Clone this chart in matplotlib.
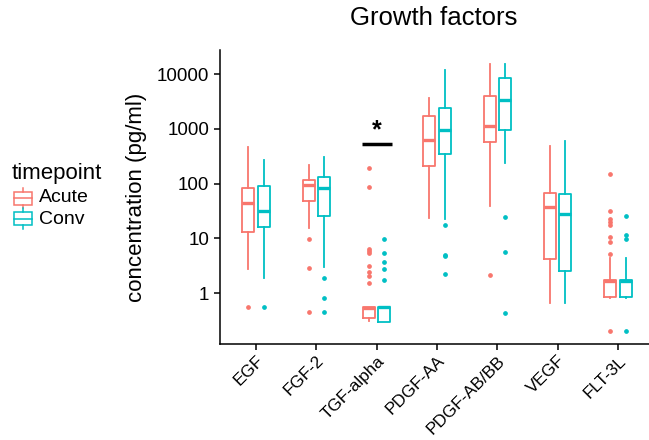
import matplotlib
matplotlib.use('Agg')
import matplotlib.pyplot as plt
from matplotlib.patches import Rectangle
from matplotlib.lines import Line2D

plt.rcParams['font.family'] = ['Liberation Sans', 'DejaVu Sans']

# ===== DATA =====
categories = ['EGF', 'FGF-2', 'TGF-alpha', 'PDGF-AA', 'PDGF-AB/BB', 'VEGF', 'FLT-3L']

acute_whislo = [2.7, 15.2, 0.31, 23.8, 39, 0.65, 0.82]
acute_q1 = [12.9, 48.7, 0.35, 210, 585, 4.2, 0.86]
acute_med = [45, 94, 0.545, 626, 1130, 37, 1.68]
acute_q3 = [82, 116, 0.56, 1740, 4050, 68, 1.73]
acute_whishi = [470, 219, 0.56, 3630, 15400, 490, 4.3]
acute_fliers = [
    [0.55],
    [9.6, 2.83, 0.45],
    [190, 87, 6.4, 5.9, 5.5, 3.16, 2.39, 2.07, 1.5],
    [],
    [2.13],
    [],
    [152, 31.6, 22.8, 20, 17.3, 10.4, 8.4, 5.1, 0.2],
]

conv_whislo = [1.86, 2.95, 0.295, 22.5, 235, 0.65, 0.82]
conv_q1 = [16, 25.6, 0.295, 343, 940, 2.53, 0.86]
conv_med = [32, 82, 0.55, 957, 3380, 27.8, 1.68]
conv_q3 = [91, 132, 0.56, 2390, 8370, 63.9, 1.73]
conv_whishi = [270, 310, 0.56, 12000, 15400, 600, 4.3]
conv_fliers = [
    [0.55],
    [1.9, 0.80, 0.45],
    [9.6, 5.3, 3.64, 2.7, 1.73],
    [17.5, 4.9, 4.75, 2.25],
    [24.5, 5.6, 0.43],
    [],
    [25.9, 11.6, 9.6, 0.2],
]

signif_y = 537  # TGF-alpha comparison bar

# ===== STYLE =====
ACUTE_COL = '#F8766D'
CONV_COL = '#00BFC4'
OFFSET = 0.125
BOX_W = 0.2


def make_stats(lo, q1, med, q3, hi, fl):
    return [dict(whislo=a, q1=b, med=c, q3=d, whishi=e, fliers=f)
            for a, b, c, d, e, f in zip(lo, q1, med, q3, hi, fl)]


def draw_group(ax, stats, positions, color):
    ax.bxp(stats, positions=positions, widths=BOX_W, showcaps=False,
           patch_artist=False,
           boxprops=dict(color=color, linewidth=1.3),
           whiskerprops=dict(color=color, linewidth=1.3),
           medianprops=dict(color=color, linewidth=2.4, solid_capstyle='butt'),
           flierprops=dict(marker='o', markersize=2.4, markerfacecolor=color,
                           markeredgecolor=color, linestyle='none'))


fig = plt.figure(figsize=(6.49, 4.40), dpi=100)
ax = fig.add_axes([219.8 / 649, 96 / 440, 434.4 / 649, 294 / 440])

x = list(range(1, len(categories) + 1))
draw_group(ax, make_stats(acute_whislo, acute_q1, acute_med, acute_q3, acute_whishi, acute_fliers),
           [i - OFFSET for i in x], ACUTE_COL)
draw_group(ax, make_stats(conv_whislo, conv_q1, conv_med, conv_q3, conv_whishi, conv_fliers),
           [i + OFFSET for i in x], CONV_COL)

ax.set_yscale('log')
ax.set_ylim(10 ** -0.93, 10 ** 4.44)
ax.set_xlim(0.4, len(categories) + 0.6)
ax.set_yticks([1, 10, 100, 1000, 10000])
ax.set_yticklabels(['1', '10', '100', '1000', '10000'])
ax.minorticks_off()
ax.set_xticks(x)
ax.set_xticklabels(categories, rotation=45, ha='right', rotation_mode='anchor')

for side in ['top', 'right']:
    ax.spines[side].set_visible(False)
for side in ['left', 'bottom']:
    ax.spines[side].set_linewidth(1.1)
ax.tick_params(axis='both', length=4, width=1.1, colors='black')
ax.tick_params(axis='y', labelsize=13.5)
ax.tick_params(axis='x', labelsize=12.3, pad=2.5)

ax.set_ylabel('concentration (pg/ml)', fontsize=16, labelpad=7)
fig.text(434 / 649, 1 - 18 / 440, 'Growth factors', fontsize=18.5,
         ha='center', va='center')

# significance marker
tgf = categories.index('TGF-alpha') + 1
ax.plot([tgf - 0.25, tgf + 0.25], [signif_y, signif_y], color='black',
        linewidth=2.5, solid_capstyle='butt')
ax.text(tgf, signif_y * 1.05, '*', fontsize=18, ha='center', va='bottom',
        fontweight='bold')

# legend drawn by hand to look like ggplot keys
fig.text(12 / 649, 1 - 173 / 440, 'timepoint', fontsize=16, ha='left', va='center')
for label, col, yc in [('Acute', ACUTE_COL, 198), ('Conv', CONV_COL, 219)]:
    x0, x1 = 14 / 649, 32 / 649
    yt = 1 - (yc - 6.5) / 440
    yb = 1 - (yc + 6.5) / 440
    fig.add_artist(Rectangle((x0, yb), x1 - x0, yt - yb, transform=fig.transFigure,
                             fill=False, edgecolor=col, linewidth=1.1))
    fig.add_artist(Line2D([x0, x1], [1 - yc / 440] * 2, transform=fig.transFigure,
                          color=col, linewidth=1.1))
    xm = 23 / 649
    fig.add_artist(Line2D([xm, xm], [yt, yt + 4 / 440], transform=fig.transFigure,
                          color=col, linewidth=1.1))
    fig.add_artist(Line2D([xm, xm], [yb, yb - 4 / 440], transform=fig.transFigure,
                          color=col, linewidth=1.1))
    fig.text(39 / 649, 1 - yc / 440, label, fontsize=14, ha='left', va='center')

fig.savefig('out.png', dpi=100)
